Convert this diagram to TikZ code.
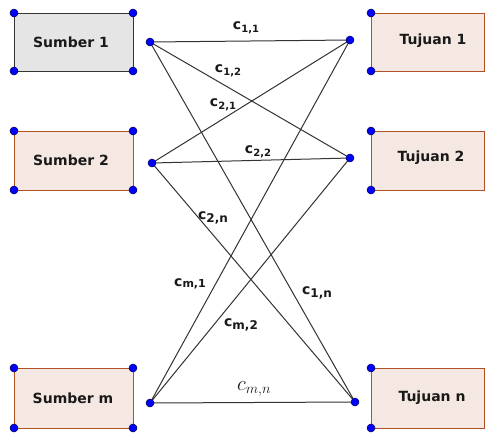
\documentclass[tikz,border=0pt]{standalone}
\usepackage{fontspec}
\setmainfont{DejaVu Sans}
\definecolor{boxfill}{RGB}{245,232,227}
\definecolor{boxdraw}{RGB}{176,82,36}
\definecolor{srcfill}{RGB}{229,229,229}
\begin{document}
\begin{tikzpicture}[x=1pt,y=-1pt,
  src/.style={draw=black!80,line width=1pt,fill=srcfill},
  box/.style={draw=boxdraw,line width=1pt,fill=boxfill},
  dot/.style={circle,fill=blue,draw=blue!30!black,line width=0.5pt,inner sep=0pt,minimum size=8pt},
  edge/.style={draw=black!80,line width=1pt},
  lbl/.style={font=\bfseries\fontsize{14}{14}\selectfont,text=black!90,inner sep=0pt},
  clbl/.style={font=\bfseries\fontsize{14}{14}\selectfont,inner sep=0pt,text=black!90}]
\newcommand{\cidx}[1]{c\raisebox{-0.35ex}{\fontsize{10}{10}\selectfont #1}}
\newcommand{\cidy}[1]{c\raisebox{-0.45ex}{\fontsize{12}{12}\selectfont #1}}
\useasboundingbox (0,0) rectangle (485,432);
% source boxes
\draw[src] (14,13) rectangle (133,71);
\draw[box] (14,131) rectangle (133,190);
\draw[box] (14,368) rectangle (133,428);
\node[lbl] (s1t) at (71,42) {Sumber 1};
\node[lbl] (s2t) at (71,160.5) {Sumber 2};
\node[lbl] (smt) at (73,398) {Sumber m};
\foreach \yy/\hh [count=\i] in {13/71,131/190,368/428}{
  \node[dot] (sa\i) at (14,\yy) {};
  \node[dot] (sb\i) at (133,\yy) {};
  \node[dot] (sc\i) at (14,\hh) {};
  \node[dot] (sd\i) at (133,\hh) {};
}
% destination boxes
\draw[box] (371,13) rectangle (484,71);
\draw[box] (371,131) rectangle (484,190);
\draw[box] (371,368) rectangle (484,428);
\node[lbl] (t1t) at (433,41) {Tujuan 1};
\node[lbl] (t2t) at (431,158) {Tujuan 2};
\node[lbl] (tnt) at (432,398) {Tujuan n};
\foreach \yy/\hh [count=\i] in {13/71,131/190,368/428}{
  \node[dot] (ta\i) at (371,\yy) {};
  \node[dot] (tc\i) at (371,\hh) {};
}
% endpoints
\coordinate (S1) at (150,42);
\coordinate (S2) at (152,163);
\coordinate (Sm) at (150,403);
\coordinate (T1) at (350,40);
\coordinate (T2) at (350,158);
\coordinate (Tn) at (355,402);
\foreach \a in {S1,S2,Sm}{
  \foreach \b in {T1,T2,Tn}{
    \draw[edge] (\a) -- (\b);
  }
}
\foreach \p in {S1,S2,Sm,T1,T2,Tn}{
  \node[dot] (d\p) at (\p) {};
}
% labels
\node[clbl] (l11) at (246,28) {\cidx{1,1}};
\node[clbl] (l12) at (228,71) {\cidx{1,2}};
\node[clbl] (l21) at (223,105) {\cidx{2,1}};
\node[clbl] (l22) at (258,152) {\cidx{2,2}};
\node[clbl] (l2n) at (213,218) {\cidy{2,n}};
\node[clbl] (lm1) at (190,284) {c\raisebox{-0.2ex}{\fontsize{11}{11}\selectfont m,1}};
\node[clbl] (l1n) at (317,293) {\cidy{1,n}};
\node[clbl] (lm2) at (241,325) {\cidy{m,2}};
\node[inner sep=0pt,text=black!90,font=\fontsize{22}{22}\selectfont] (lmn) at (254,389) {$c_{m,n}$};
\end{tikzpicture}
\end{document}
